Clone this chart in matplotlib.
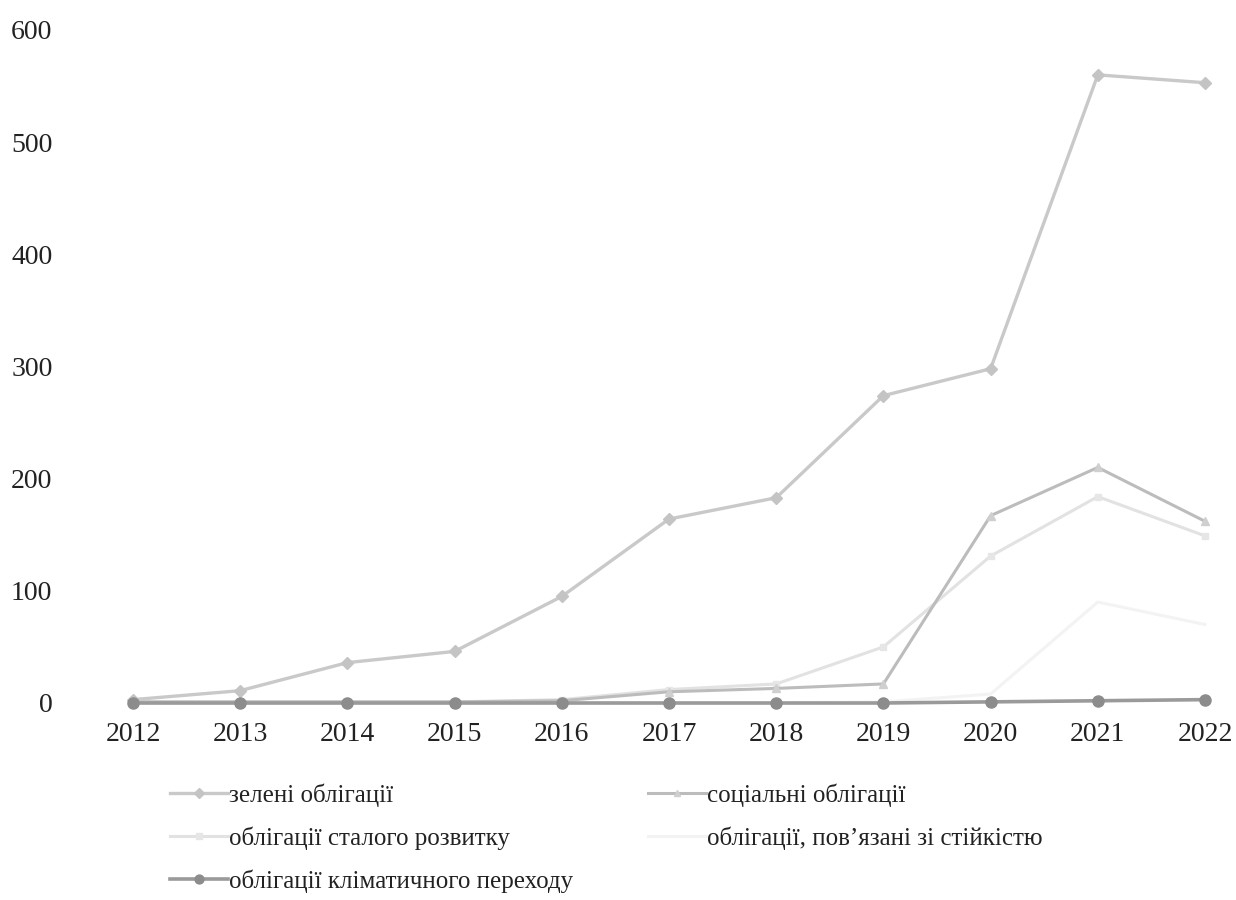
import matplotlib
matplotlib.use('Agg')
import matplotlib.pyplot as plt

plt.rcParams['font.family'] = ['Liberation Serif', 'DejaVu Serif']

# ── дані ──────────────────────────────────────────────
years = [2012, 2013, 2014, 2015, 2016, 2017, 2018, 2019, 2020, 2021, 2022]
green = [3, 11, 36, 46, 95, 164, 183, 274, 298, 560, 553]
social = [1, 1, 1, 1, 2, 10, 13, 17, 167, 210, 162]
sustainability = [1, 1, 1, 1, 3, 12, 17, 50, 131, 184, 149]
sust_linked = [0, 0, 0, 0, 0, 0, 0, 1, 8, 90, 70]
climate = [0, 0, 0, 0, 0, 0, 0, 0, 1, 2, 3]

labels = ['зелені облігації', 'соціальні облігації', 'облігації сталого розвитку',
          'облігації, пов’язані зі стійкістю', 'облігації кліматичного переходу']

fig = plt.figure(figsize=(12.36, 9), dpi=100)
ax = fig.add_axes([133 / 1236, 1 - 703 / 900, (1205 - 133) / 1236, (703 - 30) / 900])

h_green, = ax.plot(years, green, color='#c9c9c9', lw=2.4, marker='D', ms=6,
                   mfc='#c4c4c4', mec='#c4c4c4', clip_on=False, zorder=3)
h_social, = ax.plot(years, social, color='#bcbcbc', lw=2.2, marker='^', ms=6,
                    mfc='#cfcfcf', mec='#cfcfcf', clip_on=False, zorder=4)
h_sust, = ax.plot(years, sustainability, color='#e2e2e2', lw=2.2, marker='s', ms=5,
                  mfc='#e6e6e6', mec='#e6e6e6', clip_on=False, zorder=3)
h_link, = ax.plot(years, sust_linked, color='#f3f3f3', lw=2.2, clip_on=False, zorder=2)
h_clim, = ax.plot(years, climate, color='#9a9a9a', lw=2.6, marker='o', ms=8,
                  mfc='#8c8c8c', mec='#8c8c8c', clip_on=False, zorder=5)

ax.set_xlim(2012, 2022)
ax.set_ylim(0, 600)
ax.set_xticks(years)
ax.set_yticks(range(0, 601, 100))
for s in ax.spines.values():
    s.set_visible(False)
ax.tick_params(axis='both', length=0, labelsize=20, colors='#222222')
ax.tick_params(axis='x', pad=14)
ax.tick_params(axis='y', pad=58)

# порядок для заповнення рядками
handles = [h_green, h_sust, h_clim, h_social, h_link]
order_labels = [labels[0], labels[2], labels[4], labels[1], labels[3]]
leg = fig.legend(handles, order_labels, ncol=2, loc='upper left',
                 bbox_to_anchor=(163 / 1236, 1 - 776 / 900), frameon=False,
                 fontsize=18, handlelength=2.3, handletextpad=0.05,
                 columnspacing=3.0, labelspacing=0.78, markerscale=0.8,
                 borderaxespad=0, borderpad=0.3)
for t in leg.get_texts():
    t.set_color('#222222')

fig.savefig('out.png', dpi=100)
